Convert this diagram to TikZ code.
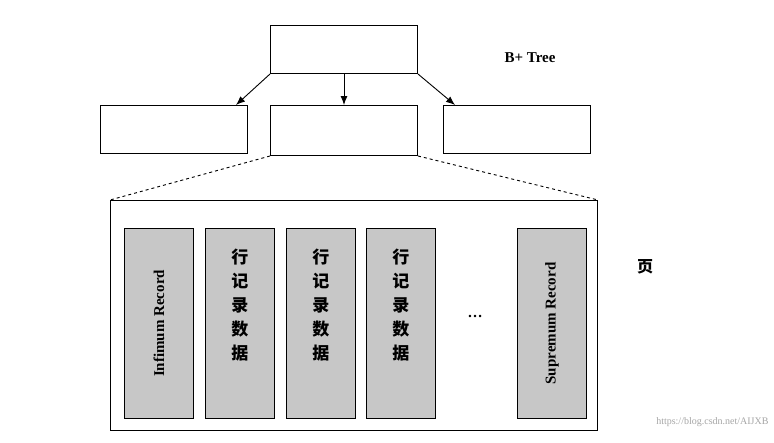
\documentclass[tikz,border=0pt]{standalone}
\usepackage{fontspec}
\usetikzlibrary{arrows.meta}
\setmainfont{Liberation Serif}
\newfontfamily\cjk{Noto Sans CJK SC}
\begin{document}
\begin{tikzpicture}[x=1pt,y=-1pt,
  box/.style={draw,line width=1pt,inner sep=0pt},
  rec/.style={draw,line width=0.9pt,fill=black!22,minimum width=69pt,minimum height=190pt,anchor=north west,inner sep=0pt},
  arr/.style={-{Latex[length=9pt,width=7pt]},line width=0.9pt},
  lbl/.style={font=\bfseries\fontsize{15}{17}\selectfont}]
\useasboundingbox (0,0) rectangle (774,442);
\fill[white] (0,0) rectangle (774,442);
\node[box,minimum width=147pt,minimum height=48pt,anchor=north west] (top) at (270,25) {};
\node[box,minimum width=147pt,minimum height=48pt,anchor=north west] (l) at (100,105) {};
\node[box,minimum width=147pt,minimum height=50pt,anchor=north west] (m) at (270,105) {};
\node[box,minimum width=147pt,minimum height=48pt,anchor=north west] (r) at (443,105) {};
\node[box,minimum width=487pt,minimum height=230pt,anchor=north west] (page) at (110,200) {};
\coordinate (la) at (236,105);
\coordinate (ra) at (455,105);
\draw[arr] (top.south west) -- (la);
\draw[arr] (top.south) -- (m.north);
\draw[arr] (top.south east) -- (ra);
\draw[dashed,line width=0.9pt] (m.south west) -- (page.north west);
\draw[dashed,line width=0.9pt] (m.south east) -- (page.north east);
\node[lbl] (bt) at (530,58) {B+ Tree};
\node[lbl,font=\cjk\bfseries\fontsize{16}{16}\selectfont] (ye) at (645,267) {页};
\node[rec] (r1) at (124,228) {};
\node[lbl,rotate=90] at (r1.center) {Infimum Record};
\foreach \n/\x in {r2/205,r3/286,r4/366}{
  \node[rec] (\n) at (\x,228) {};
  \node[font=\cjk\bfseries\fontsize{17}{24}\selectfont,align=center] at ([yshift=18pt]\n.center) {行\\记\\录\\数\\据};
}
\node[rec] (r5) at (517,228) {};
\node[lbl,rotate=90] at (r5.center) {Supremum Record};
\node[lbl] (dots) at (475,316) {\dots};
\node[font=\fontsize{10}{12}\selectfont,text=black!35,anchor=east] (wm) at (772,422) {https://blog.csdn.net/AIJXB};
\end{tikzpicture}
\end{document}
